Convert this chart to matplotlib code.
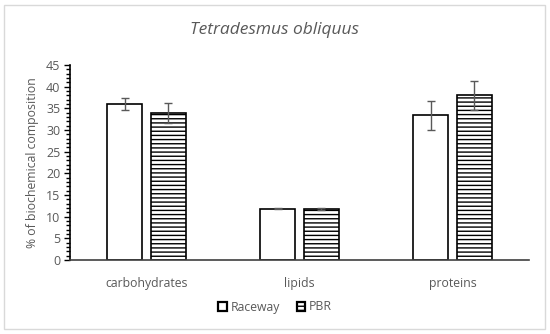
import numpy as np
import matplotlib
matplotlib.use('Agg')
import matplotlib.pyplot as plt
from matplotlib.patches import Rectangle
from matplotlib.ticker import MultipleLocator

plt.rcParams['font.family'] = ['Open Sans', 'DejaVu Sans']
plt.rcParams['hatch.linewidth'] = 1.0

# data
categories = ['carbohydrates', 'lipids', 'proteins']
series = ['Raceway', 'PBR']
raceway = [35.9, 11.85, 33.4]
raceway_err = [1.4, 0.1, 3.4]
pbr = [34.0, 11.8, 38.0]
pbr_err = [2.3, 0.25, 3.4]

grey = '#595959'

fig = plt.figure(figsize=(5.5, 3.34), dpi=100)
# chart area border
fig.patches.append(Rectangle((4 / 550, 1 - 329 / 334), 541 / 550, 324 / 334,
                             transform=fig.transFigure, fill=False,
                             edgecolor='#d9d9d9', linewidth=1.0))
ax = fig.add_axes([70 / 550, 1 - 260 / 334, 459 / 550, 195 / 334])

x = np.arange(len(categories))
w = 0.225
off = 0.1425
ax.bar(x - off, raceway, w, color='white', edgecolor='black', linewidth=1.2,
       label=series[0], zorder=2)
ax.bar(x + off, pbr, w, color='white', edgecolor='black', linewidth=1.2,
       hatch='----', label=series[1], zorder=2)
ax.errorbar(x - off, raceway, yerr=raceway_err, fmt='none', ecolor=grey,
            elinewidth=1.0, capsize=3, capthick=1.0, zorder=3)
ax.errorbar(x + off, pbr, yerr=pbr_err, fmt='none', ecolor=grey,
            elinewidth=1.0, capsize=3, capthick=1.0, zorder=3)

ax.set_xlim(-0.5, 2.5)
ax.set_ylim(0, 45)
ax.yaxis.set_major_locator(MultipleLocator(5))
ax.yaxis.set_minor_locator(MultipleLocator(1))
ax.set_xticks(x)
ax.set_xticklabels(categories)
ax.tick_params(axis='x', length=0, pad=12, labelsize=8.8, labelcolor=grey)
ax.tick_params(axis='y', which='major', length=4, width=1.0, direction='out',
               labelsize=9, labelcolor=grey, pad=3)
ax.tick_params(axis='y', which='minor', length=3, width=1.0, direction='out')

for s in ['top', 'right']:
    ax.spines[s].set_visible(False)
ax.spines['left'].set_color('black')
ax.spines['left'].set_linewidth(1.2)
ax.spines['bottom'].set_color('#404040')
ax.spines['bottom'].set_linewidth(1.2)

ax.set_ylabel('% of biochemical composition', color=grey, fontsize=8.8,
              labelpad=5)
fig.text(0.5, 1 - 30 / 334, 'Tetradesmus obliquus', ha='center', va='center',
         fontsize=12.5, style='italic', color=grey)

leg = fig.legend(loc='center', bbox_to_anchor=(0.5, 1 - 307 / 334), ncol=2,
                 frameon=False, fontsize=8.8, handlelength=0.7,
                 handleheight=0.7, handletextpad=0.3, columnspacing=1.4)
for t in leg.get_texts():
    t.set_color(grey)
for h in leg.legend_handles:
    h.set_linewidth(1.6)

fig.savefig('out.png', dpi=100)
